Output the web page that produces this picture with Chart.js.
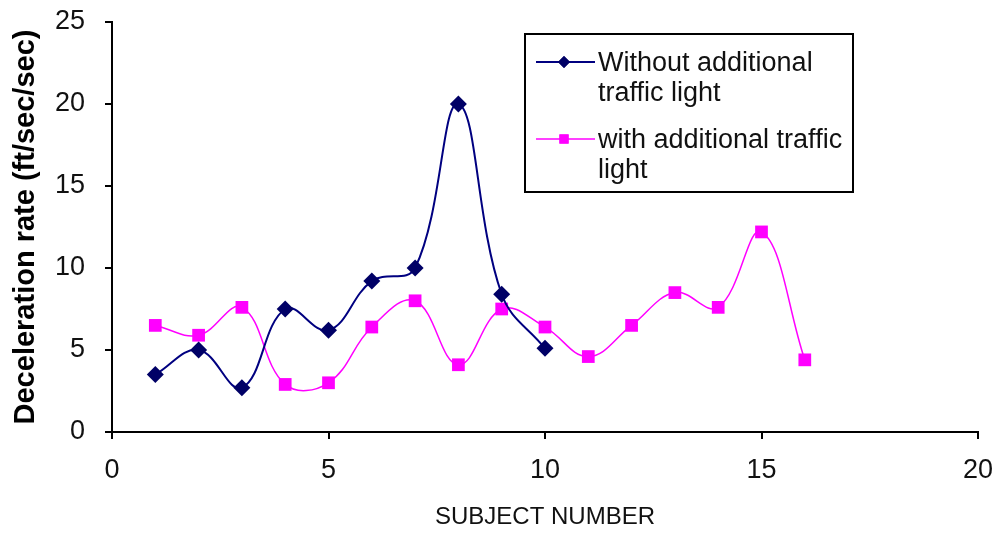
<!DOCTYPE html>
<html>
<head>
<meta charset="utf-8">
<script src="https://cdn.jsdelivr.net/npm/chart.js@4.4.1/dist/chart.umd.min.js"></script>
<style>
  html, body { margin: 0; padding: 0; background: #fff; }
  #wrap { width: 998px; height: 535px; }
</style>
</head>
<body>
<div id="wrap"><canvas id="decelChart" width="998" height="535"></canvas></div>
<script>
// valores
const subjectsWithout = [1, 2, 3, 4, 5, 6, 7, 8, 9, 10];
const withoutLight = [3.5, 5.0, 2.7, 7.5, 6.2, 9.2, 10.0, 20.0, 8.4, 5.1];
const subjectsWith = [1, 2, 3, 4, 5, 6, 7, 8, 9, 10, 11, 12, 13, 14, 15, 16];
const withLight = [6.5, 5.9, 7.6, 2.9, 3.0, 6.4, 8.0, 4.1, 7.5, 6.4, 4.6, 6.5, 8.5, 7.6, 12.2, 4.4];
const xTicks = [0, 5, 10, 15, 20];
const yTicks = [0, 5, 10, 15, 20, 25];
const seriesLabels = [['Without additional', 'traffic light'], ['with additional traffic', 'light']];

const BLUE = '#000080';
const PINK = '#ff00ff';

function toPoints(xs, ys) {
    return xs.map(function (x, i) { return { x: x, y: ys[i] }; });
}

// leyenda con texto en dos lineas, como en el original
const boxLegend = {
    id: 'boxLegend',
    afterDraw: function (chart) {
        const ctx = chart.ctx;
        ctx.save();
        ctx.strokeStyle = '#000';
        ctx.lineWidth = 2;
        ctx.strokeRect(525, 34, 328, 158);
        ctx.font = '27px "Liberation Sans", Arial, sans-serif';
        ctx.textBaseline = 'middle';
        const rows = [62, 139];
        chart.data.datasets.forEach(function (ds, i) {
            const y = rows[i];
            ctx.strokeStyle = ds.borderColor;
            ctx.lineWidth = ds.borderWidth;
            ctx.beginPath();
            ctx.moveTo(536, y);
            ctx.lineTo(595, y);
            ctx.stroke();
            ctx.fillStyle = ds.pointBackgroundColor;
            if (i === 0) {
                Chart.helpers.drawPoint(ctx, { pointStyle: 'rectRot', radius: 6, borderWidth: 0 }, 564, y);
            } else {
                Chart.helpers.drawPoint(ctx, { pointStyle: 'rect', radius: 6.5, borderWidth: 0 }, 564, y);
            }
            ctx.fill();
            ctx.fillStyle = '#111';
            seriesLabels[i].forEach(function (line, j) {
                ctx.fillText(line, 598, y + 2 + j * 30);
            });
        });
        ctx.restore();
    }
};

document.addEventListener('DOMContentLoaded', function () {
    const ctx = document.getElementById('decelChart');
    new Chart(ctx, {
        type: 'line',
        data: {
            datasets: [{
                label: seriesLabels[0].join(' '),
                data: toPoints(subjectsWithout, withoutLight),
                borderColor: BLUE,
                borderWidth: 2,
                pointStyle: 'rectRot',
                pointRadius: 8.5,
                pointBackgroundColor: '#000066',
                pointBorderColor: '#000066',
                pointBorderWidth: 0,
                tension: 0.4,
                fill: false
            }, {
                label: seriesLabels[1].join(' '),
                data: toPoints(subjectsWith, withLight),
                borderColor: PINK,
                borderWidth: 1.5,
                pointStyle: 'rect',
                pointRadius: 9,
                pointBackgroundColor: PINK,
                pointBorderColor: PINK,
                pointBorderWidth: 0,
                tension: 0.4,
                fill: false
            }]
        },
        options: {
            responsive: false,
            animation: false,
            clip: false,
            layout: { padding: { top: 22, right: 20, left: 0, bottom: 0 } },
            plugins: {
                legend: { display: false },
                tooltip: { enabled: false }
            },
            scales: {
                x: {
                    type: 'linear',
                    min: 0,
                    max: 20,
                    afterBuildTicks: function (scale) {
                        scale.ticks = xTicks.map(function (v) { return { value: v }; });
                    },
                    afterFit: function (scale) {
                        scale.height = 103;
                        scale.paddingLeft = 0;
                        scale.paddingRight = 0;
                    },
                    grid: { display: true, drawOnChartArea: false, drawTicks: true, tickLength: 7, color: '#000', lineWidth: 2 },
                    border: { display: true, color: '#000', width: 2 },
                    ticks: {
                        color: '#111',
                        padding: 15,
                        maxRotation: 0,
                        font: { family: '"Liberation Sans", Arial, sans-serif', size: 27 }
                    },
                    title: {
                        display: true,
                        text: 'SUBJECT NUMBER',
                        color: '#111',
                        padding: { top: 0, bottom: 3 },
                        font: { family: '"Liberation Sans", Arial, sans-serif', size: 24 }
                    }
                },
                y: {
                    min: 0,
                    max: 25,
                    afterBuildTicks: function (scale) {
                        scale.ticks = yTicks.map(function (v) { return { value: v }; });
                    },
                    afterFit: function (scale) {
                        scale.width = 112;
                        scale.paddingTop = 0;
                        scale.paddingBottom = 0;
                    },
                    grid: { display: true, drawOnChartArea: false, drawTicks: true, tickLength: 7, color: '#000', lineWidth: 2 },
                    border: { display: true, color: '#000', width: 2 },
                    ticks: {
                        color: '#111',
                        padding: 20,
                        font: { family: '"Liberation Sans", Arial, sans-serif', size: 27 }
                    },
                    title: {
                        display: true,
                        text: 'Deceleration rate (ft/sec/sec)',
                        color: '#000',
                        padding: { top: 9, bottom: 0 },
                        font: { family: '"Liberation Sans", Arial, sans-serif', size: 29, weight: 'bold' }
                    }
                }
            }
        },
        plugins: [boxLegend]
    });
});
</script>
</body>
</html>
